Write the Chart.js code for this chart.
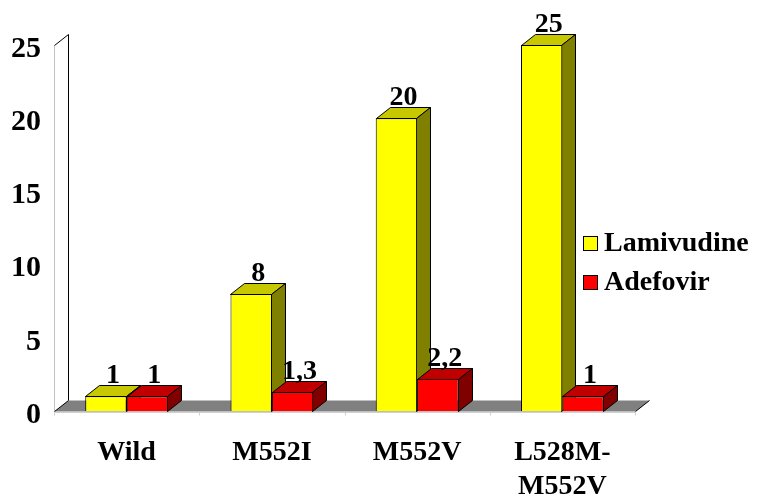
<!DOCTYPE html>
<html>
<head>
<meta charset="utf-8">
<script src="https://cdn.jsdelivr.net/npm/chart.js@4.4.0/dist/chart.umd.min.js"></script>
<style>
  html, body { margin: 0; padding: 0; background: #fff; }
</style>
</head>
<body>
<canvas id="canvas" width="761" height="497"></canvas>
<script>
var categories = ['Wild', 'M552I', 'M552V', ['L528M-', 'M552V']];
var seriesNames = ['Lamivudine', 'Adefovir'];
var lamivudine = [1, 8, 20, 25];
var adefovir = [1, 1.3, 2.2, 1];
var yMax = 25;
var yStep = 5;

// depth of the fake 3d boxes
var DX = 14, DY = -11;
var faces = [
  {front: '#ffff00', top: '#c8c800', side: '#808000'},
  {front: '#ff0000', top: '#c00000', side: '#800000'}
];
var family = '"Liberation Serif", "Times New Roman", serif';
var boldFont = 'bold 28px ' + family;

function poly(ctx, pts, fill, stroke) {
  ctx.beginPath();
  ctx.moveTo(pts[0][0], pts[0][1]);
  for (var i = 1; i < pts.length; i++) ctx.lineTo(pts[i][0], pts[i][1]);
  ctx.closePath();
  if (fill) { ctx.fillStyle = fill; ctx.fill(); }
  if (stroke) { ctx.strokeStyle = stroke; ctx.lineWidth = 1; ctx.stroke(); }
}

function line(ctx, x1, y1, x2, y2, color) {
  ctx.beginPath();
  ctx.moveTo(x1, y1);
  ctx.lineTo(x2, y2);
  ctx.strokeStyle = color;
  ctx.lineWidth = 1;
  ctx.stroke();
}

var box3d = {
  id: 'box3d',
  beforeDatasetsDraw: function(chart) {
    var ctx = chart.ctx, a = chart.chartArea;
    var l = Math.round(a.left) + 0.5, r = Math.round(a.right) + 0.5;
    var t = Math.round(a.top) + 0.5, b = Math.round(a.bottom) + 0.5;
    ctx.save();
    // side wall
    poly(ctx, [[l, t], [l + DX, t + DY], [l + DX, b + DY], [l, b]], '#ffffff', null);
    line(ctx, l, t, l, b, '#c0c0c0');
    line(ctx, l, t, l + DX, t + DY, '#000');
    line(ctx, l + DX, t + DY, l + DX, b + DY, '#000');
    // floor
    poly(ctx, [[l, b], [l + DX, b + DY], [r + DX, b + DY], [r, b]], '#808080', null);
    line(ctx, l, b, l + DX, b + DY, '#000');
    line(ctx, r, b, r + DX, b + DY, '#000');
    line(ctx, l, b + 1, r, b + 1, '#d0d0d0');
    var xs = chart.scales.x;
    for (var k = 0; k <= categories.length; k++) {
      var gx = Math.round(xs.left + k * (xs.width / categories.length)) + 0.5;
      line(ctx, gx, b + 1, gx, b + 4, '#d0d0d0');
    }

    // top and side faces, the library draws the fronts afterwards
    for (var i = 0; i < categories.length; i++) {
      for (var d = 0; d < chart.data.datasets.length; d++) {
        var bar = chart.getDatasetMeta(d).data[i];
        var p = bar.getProps(['x', 'y', 'base', 'width'], true);
        var x1 = Math.round(p.x - p.width / 2) + 0.5, x2 = Math.round(p.x + p.width / 2) - 0.5;
        var yt = Math.round(p.y) + 0.5, yb = Math.round(p.base) + 0.5;
        poly(ctx, [[x1, yt], [x1 + DX, yt + DY], [x2 + DX, yt + DY], [x2, yt]], faces[d].top, '#000');
        poly(ctx, [[x2, yt], [x2 + DX, yt + DY], [x2 + DX, yb + DY], [x2, yb]], faces[d].side, '#000');
      }
    }
    ctx.restore();
  },
  afterDatasetsDraw: function(chart) {
    var ctx = chart.ctx;
    ctx.save();
    ctx.font = boldFont;
    ctx.fillStyle = '#000';
    ctx.textAlign = 'center';
    ctx.textBaseline = 'alphabetic';
    chart.data.datasets.forEach(function(ds, d) {
      chart.getDatasetMeta(d).data.forEach(function(bar, i) {
        var txt = String(ds.data[i]).replace('.', ',');
        ctx.fillText(txt, bar.x + DX / 2, bar.y + DY - 2);
      });
    });
    ctx.restore();
  },
  afterDraw: function(chart) {
    var ctx = chart.ctx;
    ctx.save();
    ctx.font = boldFont;
    ctx.textAlign = 'left';
    ctx.textBaseline = 'middle';
    chart.data.datasets.forEach(function(ds, d) {
      var cy = 243 + d * 39;
      ctx.fillStyle = ds.backgroundColor;
      ctx.fillRect(583, cy - 7, 15, 15);
      ctx.strokeStyle = '#000';
      ctx.lineWidth = 1;
      ctx.strokeRect(583.5, cy - 6.5, 14, 14);
      ctx.fillStyle = '#000';
      ctx.fillText(ds.label, 604, cy + 1);
    });
    ctx.restore();
  }
};

new Chart(document.getElementById('canvas'), {
  type: 'bar',
  data: {
    labels: categories,
    datasets: [{
      label: seriesNames[0],
      data: lamivudine,
      backgroundColor: faces[0].front,
      borderColor: '#000',
      borderWidth: 1,
      barPercentage: 1,
      categoryPercentage: 0.57
    }, {
      label: seriesNames[1],
      data: adefovir,
      backgroundColor: faces[1].front,
      borderColor: '#000',
      borderWidth: 1,
      barPercentage: 1,
      categoryPercentage: 0.57
    }]
  },
  options: {
    responsive: false,
    animation: false,
    devicePixelRatio: 1,
    layout: { padding: { top: 45, right: 126, bottom: 0, left: 0 } },
    plugins: {
      legend: { display: false },
      tooltip: { enabled: false }
    },
    scales: {
      x: {
        grid: { display: false },
        border: { display: false },
        ticks: {
          color: '#000',
          padding: 17,
          maxRotation: 0,
          autoSkip: false,
          font: { family: family, size: 28, weight: 'bold', lineHeight: 1.22 }
        },
        afterFit: function(s) { s.height = 86; }
      },
      y: {
        min: 0,
        max: yMax,
        grid: { display: false },
        border: { display: false },
        ticks: {
          stepSize: yStep,
          color: '#000',
          padding: 5,
          labelOffset: 4,
          font: { family: family, size: 30, weight: 'bold' }
        },
        afterFit: function(s) { s.width = 54; }
      }
    }
  },
  plugins: [box3d]
});
</script>
</body>
</html>
